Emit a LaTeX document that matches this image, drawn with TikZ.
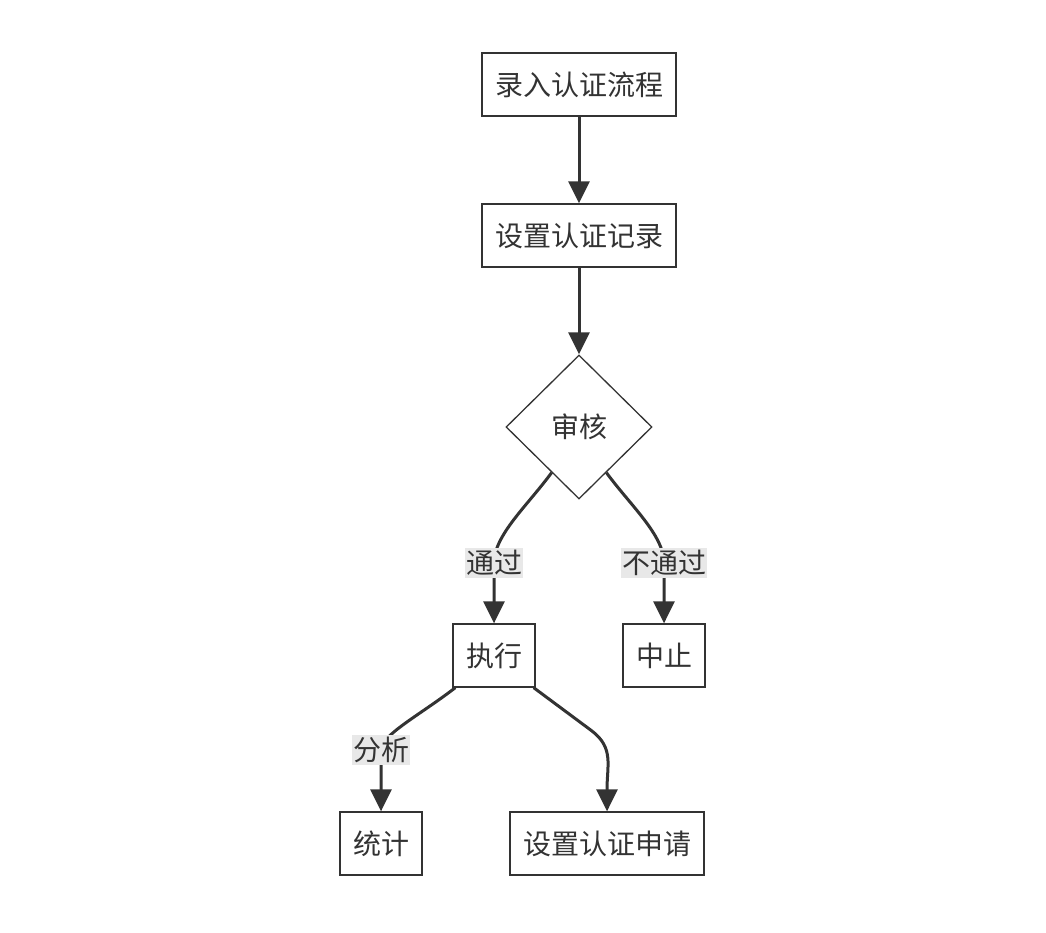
\documentclass[tikz,border=0pt]{standalone}
\usepackage{fontspec}
\newfontfamily\cjk{Noto Sans CJK SC}
\usetikzlibrary{shapes.geometric,arrows.meta}
\definecolor{ink}{HTML}{333333}
\definecolor{lblbg}{HTML}{E8E8E8}
\begin{document}
\begin{tikzpicture}[x=1pt,y=1pt,
  every node/.style={font=\cjk\fontsize{28}{32}\selectfont, text=ink},
  box/.style={draw=ink, line width=1.3pt, fill=white, minimum height=63pt, inner sep=0pt},
  wide/.style={box, minimum width=194pt},
  narrow/.style={box, minimum width=82pt},
  decision/.style={diamond, draw=ink, line width=1.3pt, fill=white, minimum width=146pt, minimum height=144pt, inner sep=0pt},
  lbl/.style={fill=lblbg, inner sep=1pt, minimum height=30pt},
  edge/.style={draw=ink, line width=3pt, -{Triangle[length=22pt,width=21pt]}},
]
\useasboundingbox (0,0) rectangle (1046,-932);
\node[wide] (A) at (579,-84.5) {录入认证流程};
\node[wide] (B) at (579,-235.5) {设置认证记录};
\node[decision] (C) at (579,-427) {审核};
\node[narrow] (D) at (494,-655.5) {执行};
\node[narrow] (E) at (664,-655.5) {中止};
\node[narrow] (F) at (381,-843.5) {统计};
\node[wide] (G) at (607,-843.5) {设置认证申请};

\draw[edge] (A) -- (B);
\draw[edge] (B) -- (C);
\draw[edge] (C.-121) .. controls (528,-505) and (494,-535) .. (494,-563) -- (D.north);
\draw[edge] (C.-59) .. controls (630,-505) and (664,-535) .. (664,-563) -- (E.north);
\draw[edge] (D.south west) ++(3,0) .. controls (420,-715) and (381,-735) .. (381,-750) -- (F.north);
\draw[edge] (D.south east) ++(-2,0) -- (592,-731) .. controls (614,-748) and (607,-765) .. (607,-790) -- (G.north);

\node[lbl] (L1) at (494,-563) {通过};
\node[lbl] (L2) at (664,-563) {不通过};
\node[lbl] (L3) at (381,-750) {分析};
\end{tikzpicture}
\end{document}
